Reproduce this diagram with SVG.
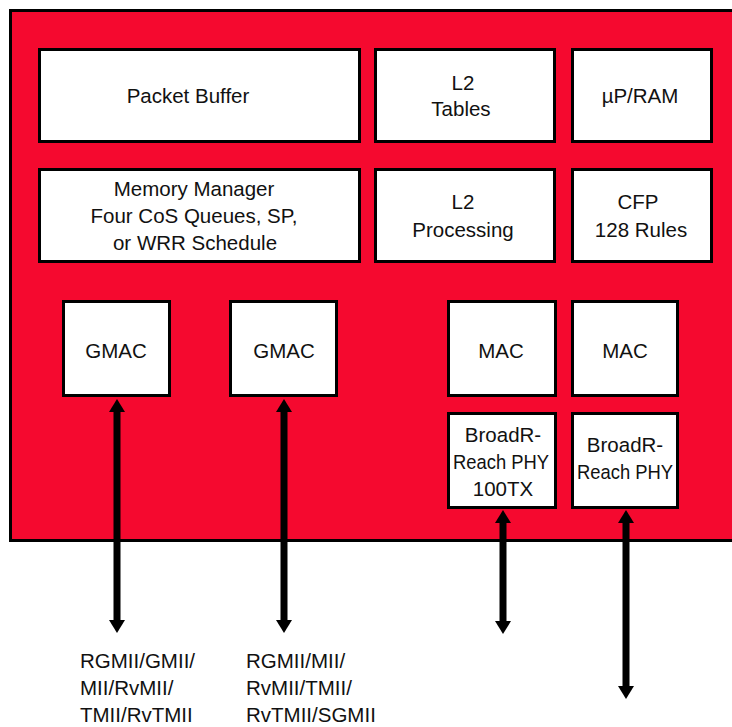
<svg xmlns="http://www.w3.org/2000/svg" width="732" height="727" viewBox="0 0 732 727">
<defs>
<style>
.chip{fill:#F5092F;stroke:#000;stroke-width:3}
.box{fill:#fff;stroke:#000;stroke-width:3}
text{font-family:"Liberation Sans",Arial,sans-serif;font-size:20.5px;fill:#111}
.c{text-anchor:middle}
.sh{stroke:#000;stroke-width:7;fill:none;marker-start:url(#ah);marker-end:url(#ah)}
</style>
<marker id="ah" markerUnits="userSpaceOnUse" markerWidth="16" markerHeight="18" viewBox="0 -9 14 18" refX="0" refY="0" orient="auto-start-reverse">
<path d="M0,-8 L13,0 L0,8 Z" fill="#000"/>
</marker>
</defs>
<rect width="732" height="727" fill="#fff"/>
<rect id="chip" class="chip" x="10.5" y="10.5" width="740" height="530"/>

<g id="packet-buffer"><rect class="box" x="39.5" y="49.5" width="320" height="92"/><text class="c" x="188" y="103">Packet Buffer</text></g>
<g id="l2-tables"><rect class="box" x="375.5" y="49.5" width="179" height="92"/><text class="c" x="463" y="90">L2</text><text class="c" x="461" y="116">Tables</text></g>
<g id="up-ram"><rect class="box" x="572.5" y="49.5" width="139" height="92"/><text class="c" x="640" y="103">µP/RAM</text></g>

<g id="memory-manager"><rect class="box" x="39.5" y="169.5" width="320" height="92"/><text class="c" x="194" y="196">Memory Manager</text><text class="c" x="194" y="223">Four CoS Queues, SP,</text><text class="c" x="195" y="250">or WRR Schedule</text></g>
<g id="l2-processing"><rect class="box" x="375.5" y="169.5" width="179" height="92"/><text class="c" x="463" y="209">L2</text><text class="c" x="463" y="237">Processing</text></g>
<g id="cfp"><rect class="box" x="572.5" y="169.5" width="139" height="92"/><text class="c" x="638" y="209">CFP</text><text class="c" x="641" y="237">128 Rules</text></g>

<g id="gmac1"><rect class="box" x="63.5" y="301.5" width="106" height="94"/><text class="c" x="116" y="358">GMAC</text></g>
<g id="gmac2"><rect class="box" x="230.5" y="301.5" width="106" height="94"/><text class="c" x="284" y="358">GMAC</text></g>
<g id="mac1"><rect class="box" x="448.5" y="301.5" width="107" height="94"/><text class="c" x="501" y="358">MAC</text></g>
<g id="mac2"><rect class="box" x="572.5" y="301.5" width="105" height="94"/><text class="c" x="625" y="358">MAC</text></g>
<g id="phy1"><rect class="box" x="448.5" y="413.5" width="107" height="94"/><text class="c" x="503" y="442">BroadR-</text><text class="c" x="501" y="469" textLength="96" lengthAdjust="spacingAndGlyphs">Reach PHY</text><text class="c" x="503" y="496">100TX</text></g>
<g id="phy2"><rect class="box" x="572.5" y="413.5" width="105" height="94"/><text class="c" x="625" y="452">BroadR-</text><text class="c" x="625" y="479" textLength="96" lengthAdjust="spacingAndGlyphs">Reach PHY</text></g>

<g id="connectors">
<line class="sh" x1="117" y1="412" x2="117" y2="620"/>
<line class="sh" x1="284" y1="412" x2="284" y2="620"/>
<line class="sh" x1="503" y1="523" x2="503" y2="621"/>
<line class="sh" x1="626" y1="523" x2="626" y2="686"/>
</g>

<g id="labels">
<text x="80" y="668">RGMII/GMII/</text>
<text x="80" y="695">MII/RvMII/</text>
<text x="80" y="722">TMII/RvTMII</text>
<text x="246" y="668">RGMII/MII/</text>
<text x="246" y="695">RvMII/TMII/</text>
<text x="246" y="722">RvTMII/SGMII</text>
</g>
</svg>
